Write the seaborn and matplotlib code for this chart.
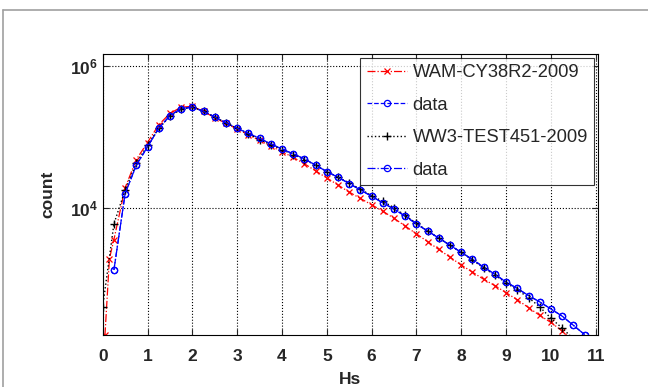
import matplotlib
matplotlib.use("Agg")
import matplotlib.pyplot as plt
from matplotlib.lines import Line2D
import numpy as np
import seaborn as sns

# Hs bins (m)
hs_wam = [0.05, 0.15, 0.25, 0.5, 0.75, 1.0, 1.25, 1.5, 1.75, 2.0, 2.25, 2.5, 2.75, 3.0, 3.25, 3.5,
          3.75, 4.0, 4.25, 4.5, 4.75, 5.0, 5.25, 5.5, 5.75, 6.0, 6.25, 6.5, 6.75, 7.0, 7.25, 7.5,
          7.75, 8.0, 8.25, 8.5, 8.75, 9.0, 9.25, 9.5, 9.75, 10.0, 10.25, 10.5]
count_wam = [158, 1910, 3550, 19100, 47900, 83200, 148000, 214000, 263000, 269000, 229000, 186000,
             155000, 129000, 107000, 89100, 74100, 61700, 51300, 41700, 33100, 26300, 20900, 16600,
             13500, 11000, 8910, 7080, 5500, 4270, 3310, 2570, 2000, 1550, 1230, 977, 794, 631, 501,
             389, 302, 240, 182, 135]

hs_ww3 = [0.0, 0.25, 0.5, 0.75, 1.0, 1.25, 1.5, 1.75, 2.0, 2.25, 2.5, 2.75, 3.0, 3.25, 3.5, 3.75,
          4.0, 4.25, 4.5, 4.75, 5.0, 5.25, 5.5, 5.75, 6.0, 6.25, 6.5, 6.75, 7.0, 7.25, 7.5, 7.75,
          8.0, 8.25, 8.5, 8.75, 9.0, 9.25, 9.5, 9.75, 10.0, 10.25, 10.5]
count_ww3 = [400, 5900, 17800, 42700, 75900, 132000, 195000, 245000, 263000, 229000, 191000, 158000,
             132000, 110000, 91200, 77600, 66100, 56200, 47900, 39800, 32400, 26900, 22400, 18200,
             14800, 12300, 10000, 7760, 6030, 4680, 3720, 2950, 2340, 1820, 1410, 1120, 871, 692,
             537, 398, 275, 200, 141]

hs_obs = [0.25, 0.5, 0.75, 1.0, 1.25, 1.5, 1.75, 2.0, 2.25, 2.5, 2.75, 3.0, 3.25, 3.5, 3.75, 4.0,
          4.25, 4.5, 4.75, 5.0, 5.25, 5.5, 5.75, 6.0, 6.25, 6.5, 6.75, 7.0, 7.25, 7.5, 7.75, 8.0,
          8.25, 8.5, 8.75, 9.0, 9.25, 9.5, 9.75, 10.0, 10.25, 10.5, 10.75]
count_obs = [1320, 15800, 39800, 72400, 132000, 200000, 251000, 263000, 229000, 191000, 158000,
             132000, 112000, 95500, 79400, 67600, 57500, 49000, 39800, 32400, 26900, 21900, 17800,
             14500, 11700, 9550, 7590, 5890, 4680, 3720, 2950, 2340, 1860, 1450, 1150, 891, 724,
             575, 468, 372, 295, 219, 162]

sns.set_style("ticks")
plt.rcParams['font.family'] = ['Liberation Sans', 'DejaVu Sans']
plt.rcParams['mathtext.default'] = 'regular'

fig = plt.figure(figsize=(6.48, 3.87), dpi=100)
ax = fig.add_axes([0.1585, 0.1344, 0.7643, 0.7261])

sns.lineplot(x=hs_wam, y=count_wam, ax=ax, color="red", marker="x", markersize=4,
             markeredgecolor="red", markeredgewidth=0.9,
             linestyle="-.", linewidth=0.9, label="WAM-CY38R2-2009")
sns.lineplot(x=hs_obs, y=count_obs, ax=ax, color="blue", marker="o", markersize=4.5,
             markerfacecolor="none", markeredgecolor="blue", markeredgewidth=0.9,
             linestyle="--", linewidth=0.9, label="data")
sns.lineplot(x=hs_ww3, y=count_ww3, ax=ax, color="black", marker="+", markersize=6,
             markeredgecolor="black", markeredgewidth=1.0,
             linestyle=":", linewidth=1.0, label="WW3-TEST451-2009")
sns.lineplot(x=hs_obs, y=count_obs, ax=ax, color="blue", marker="o", markersize=4.5,
             markerfacecolor="none", markeredgecolor="blue", markeredgewidth=0.9,
             linestyle="-.", linewidth=0.9, label="data")

ax.set_yscale("log")
ax.set_xlim(0, 11.05)
ax.set_ylim(10 ** 2.203, 10 ** 6.17)
ax.set_xticks(range(0, 12))
ax.set_yticks([1e4, 1e6])
ax.minorticks_off()
ax.grid(True, linestyle=":", color="black", linewidth=0.8)
ax.tick_params(direction="in", top=True, right=True, labelsize=12.5, length=4, width=0.8)
ax.tick_params(axis="x", pad=10)
for lbl in ax.get_xticklabels() + ax.get_yticklabels():
    lbl.set_fontweight("bold")
for s in ax.spines.values():
    s.set_visible(True)
    s.set_linewidth(0.8)
    s.set_color("black")

ax.set_xlabel("Hs", fontsize=12.5, fontweight="bold", labelpad=6)
ax.set_ylabel("count", fontsize=12.5, fontweight="bold", labelpad=10)

leg = ax.legend(loc="upper right", fontsize=13.2, frameon=True, fancybox=False, edgecolor="black",
                numpoints=1, handlelength=2.2, handletextpad=0.3, labelspacing=0.85,
                borderaxespad=0.2, borderpad=0.35)
leg.get_frame().set_linewidth(0.8)

# figure border
fig.add_artist(Line2D([0.004, 1.0], [0.973, 0.973], color="#a0a0a0", linewidth=1.2))
fig.add_artist(Line2D([0.004, 0.004], [0.0, 0.973], color="#a0a0a0", linewidth=1.2))

fig.savefig("out.png", dpi=100)
